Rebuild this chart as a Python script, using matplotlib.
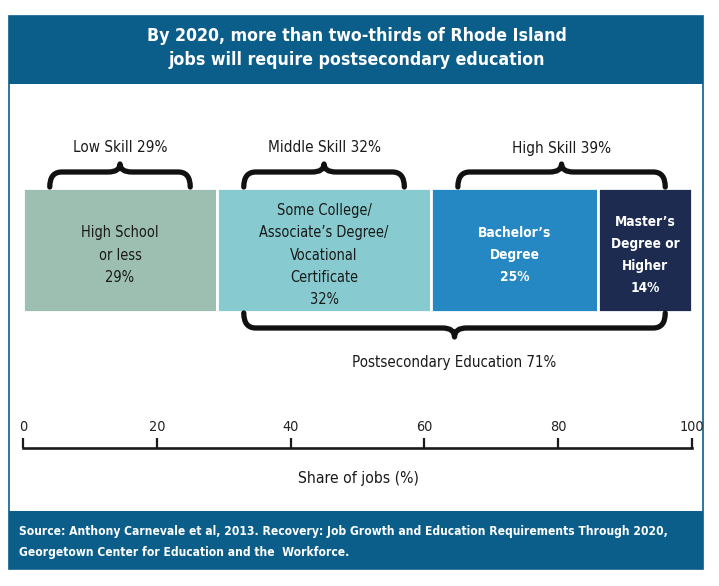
import matplotlib.pyplot as plt
from matplotlib import font_manager as fm
from matplotlib.patches import Rectangle, PathPatch
from matplotlib.path import Path

# pick a narrow face if one is installed
pick = None
for f in fm.fontManager.ttflist:
    st = str(f.stretch)
    narrow = "Narrow" in f.name or "Condensed" in f.name or "condensed" in st
    if st.isdigit() and int(st) < 500:
        narrow = True
    if narrow and (pick is None or "Liberation Sans Narrow" in f.name):
        pick = f
if pick is not None:
    plt.rcParams['font.family'] = [pick.name, 'DejaVu Sans']
    plt.rcParams['font.stretch'] = pick.stretch
else:
    plt.rcParams['font.family'] = ['Liberation Sans', 'DejaVu Sans']

# data
title = "By 2020, more than two-thirds of Rhode Island\njobs will require postsecondary education"
source = ("Source: Anthony Carnevale et al, 2013. Recovery: Job Growth and Education Requirements Through 2020,\n"
          "Georgetown Center for Education and the  Workforce.")
categories = ["High School\nor less\n29%",
              "Some College/\nAssociate\u2019s Degree/\nVocational\nCertificate\n32%",
              "Bachelor\u2019s\nDegree\n25%",
              "Master\u2019s\nDegree or\nHigher\n14%"]
shares = [29, 32, 25, 14]
bar_colors = ["#9dbfb1", "#87cbd0", "#2588c3", "#1c2b4f"]
text_colors = ["#1a1a1a", "#1a1a1a", "white", "white"]
text_weights = ["normal", "normal", "bold", "bold"]

groups = ["Low Skill 29%", "Middle Skill 32%", "High Skill 39%"]
group_bars = [(0, 0), (1, 1), (2, 3)]
post_label = "Postsecondary Education 71%"
post_bars = (1, 3)

ticks = [0, 20, 40, 60, 80, 100]

BANNER = "#0b5e8a"
W, H = 719, 586

fig = plt.figure(figsize=(W / 100, H / 100), dpi=100)


def fy(py):
    return 1 - py / H


# scale all type so the title line is about as wide as in the reference
probe = fig.text(0, 0, title.split("\n")[0], fontsize=14.5, fontweight="bold")
wpx = probe.get_window_extent(renderer=fig.canvas.get_renderer()).width
probe.remove()
k = min(1.0, 395 / wpx)

# frame and banners
fig.patches.append(Rectangle((9 / W, fy(569)), 694 / W, 553 / H, transform=fig.transFigure,
                             facecolor="white", edgecolor=BANNER, lw=1.2, zorder=-2))
fig.patches.append(Rectangle((9 / W, fy(84)), 694 / W, 68 / H, transform=fig.transFigure,
                             facecolor=BANNER, edgecolor="none", zorder=-1))
fig.patches.append(Rectangle((9 / W, fy(569)), 694 / W, 58 / H, transform=fig.transFigure,
                             facecolor=BANNER, edgecolor="none", zorder=-1))

fig.text(357 / W, fy(48), title, ha="center", va="center", color="white",
         fontsize=15.3 * k, fontweight="bold", linespacing=1.42)
fig.text(19 / W, fy(542), source, ha="left", va="center", color="white",
         fontsize=10.4 * k, fontweight="bold", linespacing=1.87)

# main axes, y in pixel-like units
ax = fig.add_axes([23 / W, fy(448), 669 / W, 348 / H])
ax.set_zorder(5)
ax.set_xlim(0, 100)
ax.set_ylim(448, 100)
ax.set_facecolor("none")
for s in ["top", "left", "right"]:
    ax.spines[s].set_visible(False)
ax.spines["bottom"].set_linewidth(1.9)
ax.spines["bottom"].set_color("#1a1a1a")
ax.set_yticks([])
ax.set_xticks(ticks)
ax.tick_params(axis="x", direction="in", length=7, width=1.6, color="#1a1a1a", labelbottom=False)
for t in ticks:
    ax.text(t, 427, str(t), ha="center", va="center", fontsize=12.5 * k, color="#222222")

starts = [sum(shares[:i]) for i in range(len(shares))]
ax.barh(250, shares, left=starts, height=124, color=bar_colors, edgecolor="white", linewidth=2)
for i, lab in enumerate(categories):
    bold = text_weights[i] == "bold"
    ax.text(starts[i] + shares[i] / 2, 255, lab, ha="center", va="center",
            fontsize=(11.8 if bold else 12.6) * k, color=text_colors[i],
            fontweight=text_weights[i], linespacing=1.7 if bold else 1.6)

px = 669 / 100  # pixels per data unit


def brace(x0, x1, yb, ym, yt):
    r = 12 / px
    xc = (x0 + x1) / 2
    verts = [(x0, yb), (x0, ym), (x0 + r, ym),
             (xc - r, ym), (xc, ym), (xc, yt),
             (xc, ym), (xc + r, ym),
             (x1 - r, ym), (x1, ym), (x1, yb)]
    codes = [Path.MOVETO, Path.CURVE3, Path.CURVE3,
             Path.LINETO, Path.CURVE3, Path.CURVE3,
             Path.CURVE3, Path.CURVE3,
             Path.LINETO, Path.CURVE3, Path.CURVE3]
    ax.add_patch(PathPatch(Path(verts, codes), facecolor="none", edgecolor="#111111",
                           lw=3.8, capstyle="round", joinstyle="round"))


inset = 4
for name, (a, b) in zip(groups, group_bars):
    g0 = starts[a]
    g1 = starts[b] + shares[b]
    brace(g0 + inset, g1 - inset, 187, 172, 164)
    ax.text((g0 + g1) / 2, 148, name, ha="center", va="center", fontsize=13.3 * k, color="#1a1a1a")

p0 = starts[post_bars[0]]
p1 = starts[post_bars[1]] + shares[post_bars[1]]
brace(p0 + inset, p1 - inset, 313, 328, 337)
ax.text((p0 + p1) / 2, 362, post_label, ha="center", va="center", fontsize=13 * k, color="#1a1a1a")

fig.text(358 / W, fy(478), "Share of jobs (%)", ha="center", va="center", fontsize=13.6 * k, color="#1a1a1a")

fig.savefig("out.png", dpi=100)
